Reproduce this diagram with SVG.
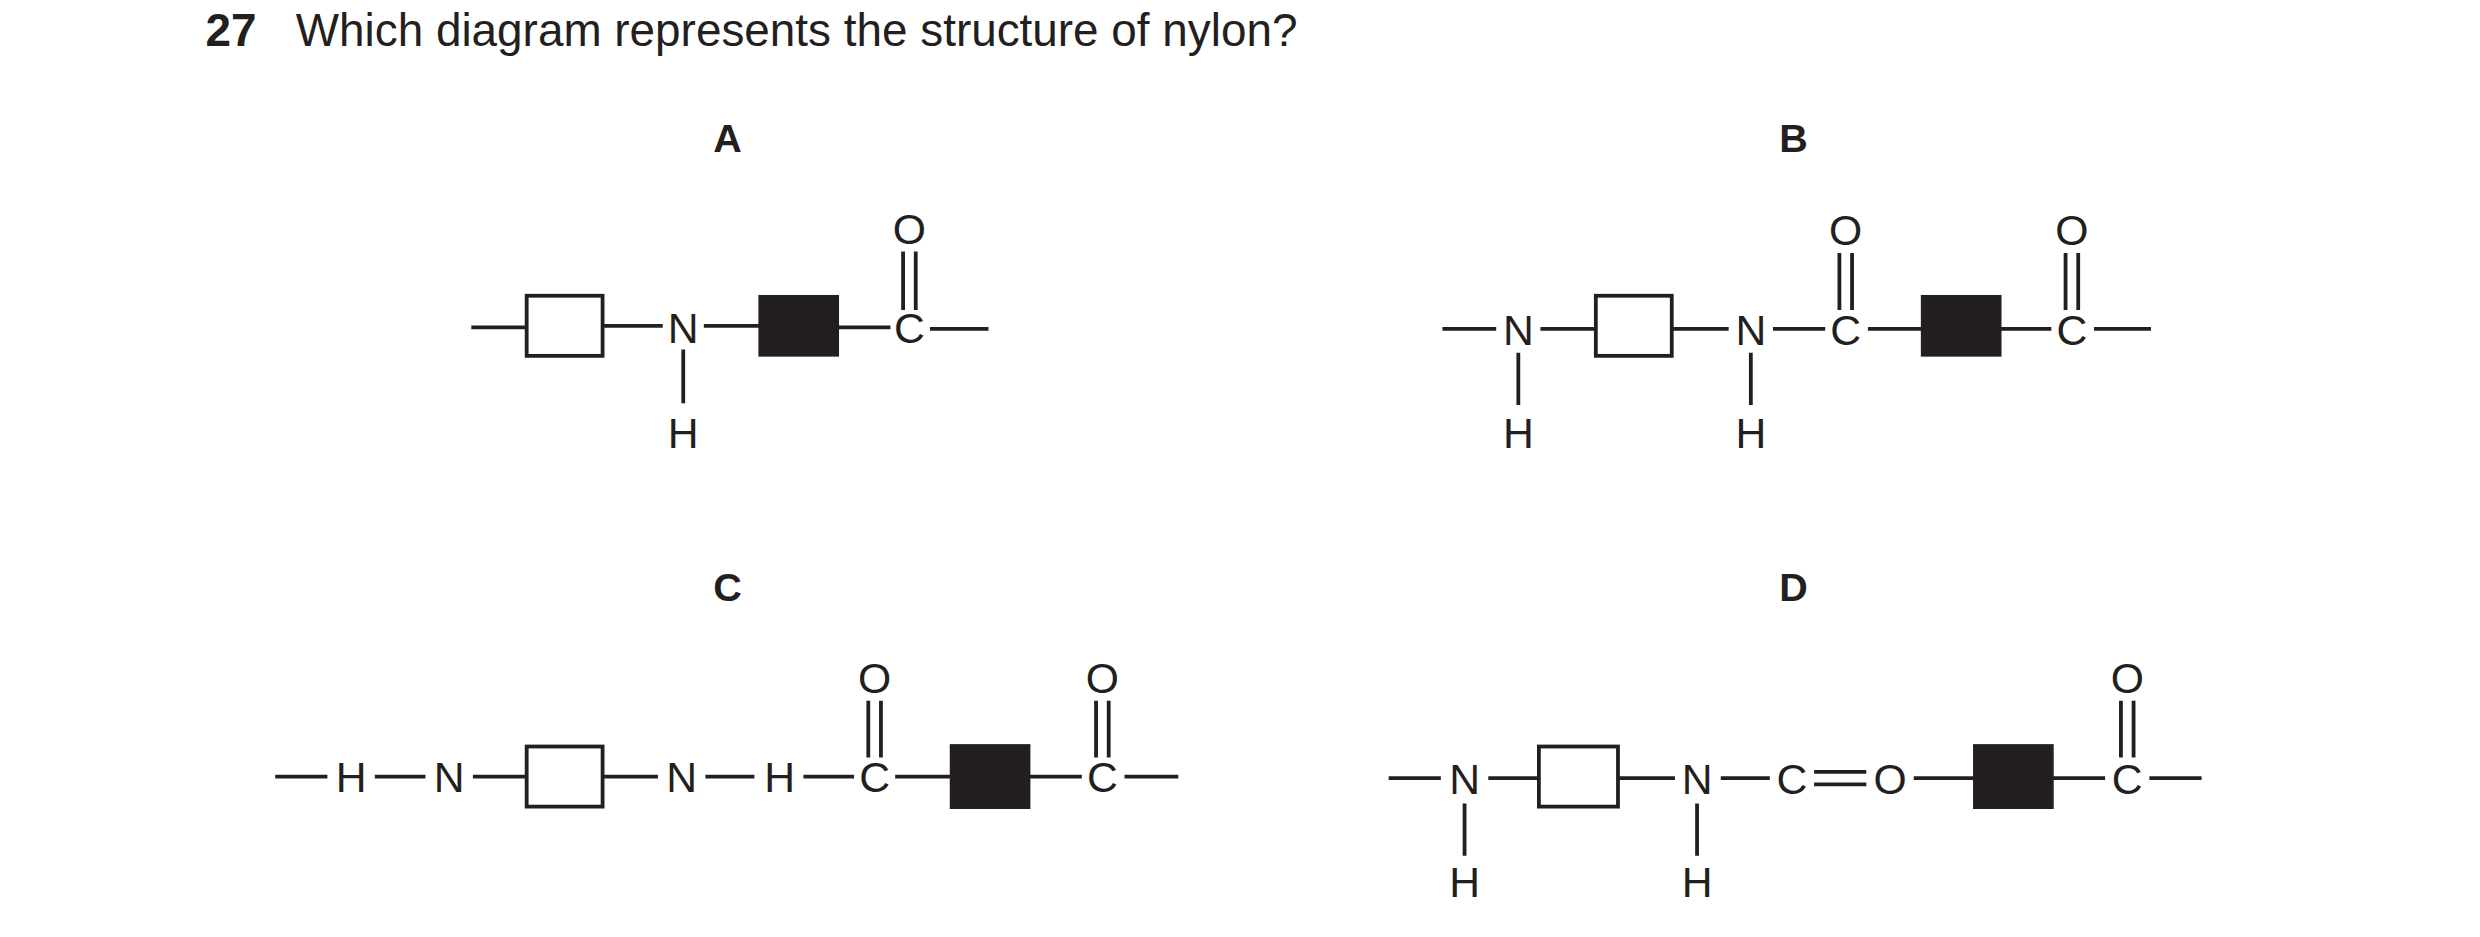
<svg xmlns="http://www.w3.org/2000/svg" width="2480" height="937" viewBox="0 0 2480 937">
<style>
.b{stroke:#231f20;stroke-width:2.4;fill:none}
.w{stroke:#231f20;stroke-width:2.4;fill:#fff}
.k{fill:#231f20;stroke:#231f20;stroke-width:1}
.t{font-family:"Liberation Sans",Arial,sans-serif;font-size:27px;fill:#231f20;text-anchor:middle}
.l{font-family:"Liberation Sans",Arial,sans-serif;font-size:25px;font-weight:bold;fill:#231f20;text-anchor:middle}
.q{font-family:"Liberation Sans",Arial,sans-serif;font-size:29px;fill:#231f20}
</style>
<rect width="2480" height="937" fill="#fff"/>
<g transform="scale(1.5816)">
<g id="title"><text class="q" x="130" y="29" font-weight="bold">27</text><text class="q" x="187" y="29">Which diagram represents the structure of nylon?</text></g>
<g id="labels"><text class="l" x="460" y="96">A</text><text class="l" x="1134" y="96">B</text><text class="l" x="460" y="380">C</text><text class="l" x="1134" y="380">D</text></g>
<g id="nodeA">
<rect class="w" x="333" y="187" width="48" height="38"/><rect class="k" x="480" y="187" width="50" height="38"/>
<text class="t" x="432" y="217">N</text><text class="t" x="432" y="283">H</text><text class="t" x="575" y="217">C</text><text class="t" x="575" y="154">O</text>
</g>
<g id="nodeB">
<rect class="w" x="1009" y="187" width="48" height="38"/><rect class="k" x="1215" y="187" width="50" height="38"/>
<text class="t" x="960" y="218">N</text><text class="t" x="960" y="283">H</text><text class="t" x="1107" y="218">N</text><text class="t" x="1107" y="283">H</text>
<text class="t" x="1167" y="218">C</text><text class="t" x="1167" y="155">O</text><text class="t" x="1310" y="218">C</text><text class="t" x="1310" y="155">O</text>
</g>
<g id="nodeC">
<rect class="w" x="333" y="472" width="48" height="38"/><rect class="k" x="601" y="471" width="50" height="40"/>
<text class="t" x="222" y="501">H</text><text class="t" x="284" y="501">N</text><text class="t" x="431" y="501">N</text><text class="t" x="493" y="501">H</text>
<text class="t" x="553" y="501">C</text><text class="t" x="553" y="438">O</text><text class="t" x="697" y="501">C</text><text class="t" x="697" y="438">O</text>
</g>
<g id="nodeD">
<rect class="w" x="973" y="472" width="50" height="38"/><rect class="k" x="1248" y="471" width="50" height="40"/>
<text class="t" x="926" y="502">N</text><text class="t" x="926" y="567">H</text><text class="t" x="1073" y="502">N</text><text class="t" x="1073" y="567">H</text>
<text class="t" x="1133" y="502">C</text><text class="t" x="1195" y="502">O</text><text class="t" x="1345" y="502">C</text><text class="t" x="1345" y="438">O</text>
</g>
<g id="connectors" class="b">
<path d="M298 207H333M381 206H419M445 206H480M530 207H563M588 208H625M432 221V255M571 159V196M579 159V196"/>
<path d="M912 208H946M974 208H1009M1057 208H1093M1121 208H1154M1181 208H1215M1265 208H1297M1324 208H1360M960 223V256M1107 223V256M1163 160V196M1171 160V196M1306 160V196M1314 160V196"/>
<path d="M174 491H207M237 491H269M299 491H333M381 491H416M446 491H477M508 491H540M566 491H601M651 491H684M711 491H745M549 443V479M557 443V479M693 443V479M701 443V479"/>
<path d="M878 492H911M941 492H973M1023 492H1059M1088 492H1119M1147 488H1180M1147 496H1180M1210 492H1248M1298 492H1331M1359 492H1392M926 508V541M1073 508V541M1341 443V479M1349 443V479"/>
</g>
</g>
</svg>
